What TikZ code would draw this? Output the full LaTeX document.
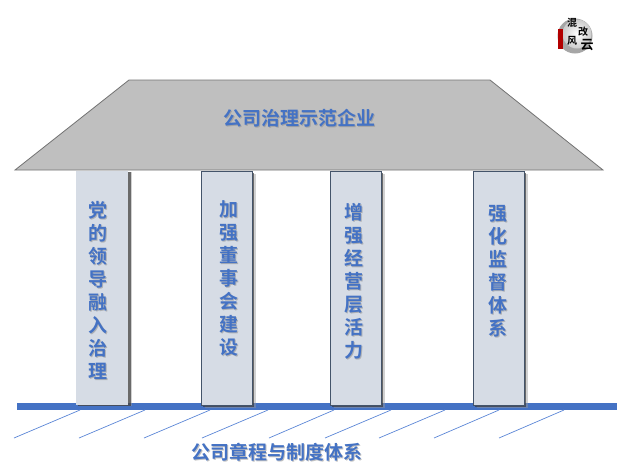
\documentclass[tikz,border=0pt]{standalone}
\usepackage{fontspec}
\setmainfont{Noto Sans CJK SC}[BoldFont={* Bold}]
\usetikzlibrary{calc}
\definecolor{blu}{HTML}{4472C4}
\definecolor{pil}{HTML}{D6DCE5}
\definecolor{roofc}{HTML}{BFBFBF}
\definecolor{edgec}{HTML}{44546A}
\definecolor{lin}{HTML}{5B86D6}
\newcommand{\shadowed}[4]{% name, position, text-style, text
  \node[#3,text=black!45,opacity=.55] at ($(#2)+(1.2,1.2)$) {#4};
  \node[#3,text=blu] (#1) at (#2) {#4};}
\tikzset{
  x=1pt,y=-1pt,
  pillar/.style={draw=edgec,line width=.8pt,fill=pil,minimum width=#1,inner sep=0pt,minimum height=234},
  pshadow/.style={fill=black!80,opacity=.65,minimum width=#1,inner sep=0pt,minimum height=234},
  pshadowsoft/.style={fill=black!40,opacity=.45,minimum width=#1,inner sep=0pt,minimum height=234},
  vtext/.style={font=\fontsize{19}{23}\selectfont\bfseries,align=center,inner sep=0pt},
  htext/.style={font=\fontsize{19}{22}\selectfont\bfseries,inner sep=0pt},
  hatch/.style={draw=lin,line width=.7pt},
  logotext/.style={font=\fontsize{10}{10}\selectfont\bfseries,text=black,inner sep=0pt}
}
\begin{document}
\begin{tikzpicture}
\useasboundingbox (0,0) rectangle (621,464);
% ground bar
\node[fill=blu,minimum width=600,minimum height=7,inner sep=0pt,anchor=north west] (bar) at (17,403) {};
% hatch lines
\foreach \i/\a/\b in {1/80/14,2/145/79,3/210/144,4/268/202,5/334/269,6/391/325,7/445/379,8/499/434,9/564/499}{
  \coordinate (ht\i) at (\a,410);
  \coordinate (hb\i) at (\b,438);
  \draw[hatch] (ht\i) -- (hb\i);
}
% roof
\draw[draw=black!55,line width=.8pt,fill=roofc] (15,170) -- (129,80) -- (490,80) -- (603,170) -- cycle;
% pillars
\node[pshadowsoft=53,anchor=north west] at (79,172) {};
\node[pshadow=53,anchor=north west] at (78,172) {};
\node[pillar=52,draw=none,anchor=north west] (p1) at (76,171) {};
\node[pshadowsoft=51,anchor=north west] at (204.5,173.5) {};
\node[pshadow=51,anchor=north west] at (202.5,172.5) {};
\node[pillar=51,anchor=north west] (p2) at (201,171) {};
\node[pshadowsoft=51,anchor=north west] at (333.5,173.5) {};
\node[pshadow=51,anchor=north west] at (331.5,172.5) {};
\node[pillar=51,anchor=north west] (p3) at (330,171) {};
\node[pshadowsoft=51,anchor=north west] at (476.5,173.5) {};
\node[pshadow=51,anchor=north west] at (474.5,172.5) {};
\node[pillar=51,anchor=north west] (p4) at (473,171) {};
% texts
\shadowed{t0}{299,118}{htext}{公司治理示范企业}
\shadowed{t1}{97.5,290}{vtext}{党\\的\\领\\导\\融\\入\\治\\理}
\shadowed{t2}{229,278}{vtext}{加\\强\\董\\事\\会\\建\\设}
\shadowed{t3}{354,281}{vtext}{增\\强\\经\\营\\层\\活\\力}
\shadowed{t4}{498,271}{vtext}{强\\化\\监\\督\\体\\系}
\shadowed{t5}{277,452}{htext}{公司章程与制度体系}
% logo
\fill[black!35] (575,36) circle (17.5);
\shade[inner color=white,outer color=black!20] (577,34) circle (14.5);
\fill[red!70!black] (558,29) rectangle (563,49);
\node[logotext] (l1) at (572,23) {混};
\node[logotext] (l2) at (583,32) {改};
\node[logotext] (l3) at (572,41) {风};
\node[logotext,font=\fontsize{13}{13}\selectfont\bfseries] (l4) at (587,45) {云};
\end{tikzpicture}
\end{document}
